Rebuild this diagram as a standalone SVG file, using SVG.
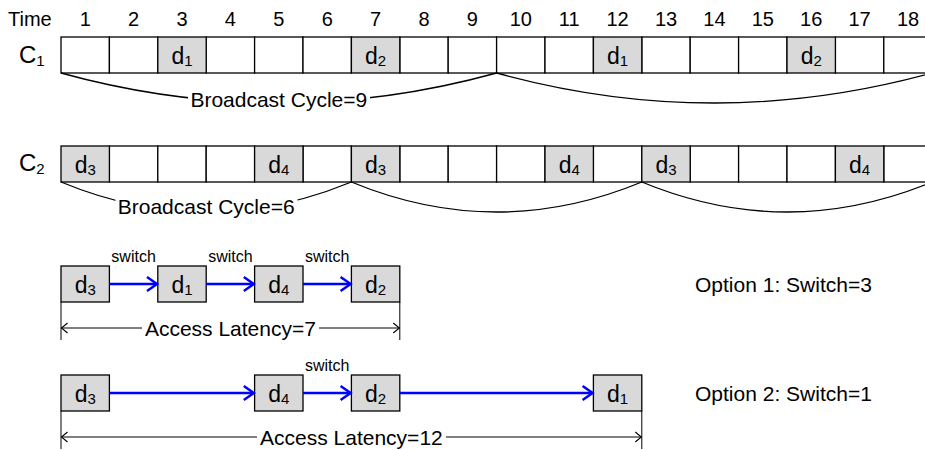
<svg xmlns="http://www.w3.org/2000/svg" width="925" height="450" viewBox="0 0 925 450">
  <style>
    text { font-family: "Liberation Sans", Arial, sans-serif; fill: #000; }
    .hdr { font-size: 20px; text-anchor: middle; }
    .cell { fill: #fff; stroke: #000; stroke-width: 1.3; }
    .data { fill: #d9d9d9; stroke: #000; stroke-width: 1.3; }
    .dl { font-size: 23px; text-anchor: middle; }
    .sub { font-size: 15px; }
    .lbl { font-size: 21px; text-anchor: middle; }
    .opt { font-size: 21px; }
    .sw { font-size: 16px; text-anchor: middle; }
    .brace { fill: none; stroke: #000; stroke-width: 1.3; }
    .flow { stroke: #0000ff; stroke-width: 2.5; fill: none; marker-end: url(#blueHead); }
    .span { stroke: #000; stroke-width: 1; fill: none; }
    .tick { stroke: #000; stroke-width: 1; }
  </style>
  <defs>
    <marker id="blueHead" markerUnits="userSpaceOnUse" markerWidth="18" markerHeight="18" refX="13" refY="9" orient="auto" overflow="visible">
      <path d="M3,2 L13,9 L3,16" fill="none" stroke="#0000ff" stroke-width="2.5"/>
    </marker>
    <marker id="thinHead" markerUnits="userSpaceOnUse" markerWidth="10" markerHeight="12" refX="7" refY="6" orient="auto-start-reverse" overflow="visible">
      <path d="M1,1 L7,6 L1,11" fill="none" stroke="#000" stroke-width="1.1"/>
    </marker>
    <mask id="gap9" maskUnits="userSpaceOnUse" x="0" y="0" width="925" height="450">
      <rect x="0" y="0" width="925" height="450" fill="#fff"/>
      <rect x="188" y="86" width="182" height="26" fill="#000"/>
    </mask>
    <mask id="gap6" maskUnits="userSpaceOnUse" x="0" y="0" width="925" height="450">
      <rect x="0" y="0" width="925" height="450" fill="#fff"/>
      <rect x="115.5" y="193" width="182" height="26" fill="#000"/>
    </mask>
  </defs>

  <!-- time axis -->
  <g id="time-axis">
    <text x="8" y="26" font-size="20">Time</text>
    <text class="hdr" x="85.2" y="26">1</text>
    <text class="hdr" x="133.6" y="26">2</text>
    <text class="hdr" x="182" y="26">3</text>
    <text class="hdr" x="230.4" y="26">4</text>
    <text class="hdr" x="278.8" y="26">5</text>
    <text class="hdr" x="327.2" y="26">6</text>
    <text class="hdr" x="375.6" y="26">7</text>
    <text class="hdr" x="424" y="26">8</text>
    <text class="hdr" x="472.4" y="26">9</text>
    <text class="hdr" x="520.8" y="26">10</text>
    <text class="hdr" x="569.2" y="26">11</text>
    <text class="hdr" x="617.6" y="26">12</text>
    <text class="hdr" x="666" y="26">13</text>
    <text class="hdr" x="714.4" y="26">14</text>
    <text class="hdr" x="762.8" y="26">15</text>
    <text class="hdr" x="811.2" y="26">16</text>
    <text class="hdr" x="859.6" y="26">17</text>
    <text class="hdr" x="908" y="26">18</text>
  </g>

  <!-- channel C1: broadcast cycle of 9 slots -->
  <g id="channel-c1">
    <text x="19" y="63" font-size="24">C<tspan font-size="15" dy="3">1</tspan></text>
    <rect class="cell" x="61" y="37" width="48.4" height="36"/>
    <rect class="cell" x="109.4" y="37" width="48.4" height="36"/>
    <rect class="cell" x="206.2" y="37" width="48.4" height="36"/>
    <rect class="cell" x="254.6" y="37" width="48.4" height="36"/>
    <rect class="cell" x="303" y="37" width="48.4" height="36"/>
    <rect class="cell" x="399.8" y="37" width="48.4" height="36"/>
    <rect class="cell" x="448.2" y="37" width="48.4" height="36"/>
    <rect class="cell" x="496.6" y="37" width="48.4" height="36"/>
    <rect class="cell" x="545" y="37" width="48.4" height="36"/>
    <rect class="cell" x="641.8" y="37" width="48.4" height="36"/>
    <rect class="cell" x="690.2" y="37" width="48.4" height="36"/>
    <rect class="cell" x="738.6" y="37" width="48.4" height="36"/>
    <rect class="cell" x="835.4" y="37" width="48.4" height="36"/>
    <rect class="cell" x="883.8" y="37" width="48.4" height="36"/>
    <g id="c1-slot3"><rect class="data" x="157.8" y="37" width="48.4" height="36"/><text class="dl" x="182" y="64">d<tspan class="sub" dy="2">1</tspan></text></g>
    <g id="c1-slot7"><rect class="data" x="351.4" y="37" width="48.4" height="36"/><text class="dl" x="375.6" y="64">d<tspan class="sub" dy="2">2</tspan></text></g>
    <g id="c1-slot12"><rect class="data" x="593.4" y="37" width="48.4" height="36"/><text class="dl" x="617.6" y="64">d<tspan class="sub" dy="2">1</tspan></text></g>
    <g id="c1-slot16"><rect class="data" x="787" y="37" width="48.4" height="36"/><text class="dl" x="811.2" y="64">d<tspan class="sub" dy="2">2</tspan></text></g>
  </g>

  <!-- channel C2: broadcast cycle of 6 slots -->
  <g id="channel-c2">
    <text x="19" y="171" font-size="24">C<tspan font-size="15" dy="3">2</tspan></text>
    <rect class="cell" x="109.4" y="146" width="48.4" height="36"/>
    <rect class="cell" x="157.8" y="146" width="48.4" height="36"/>
    <rect class="cell" x="206.2" y="146" width="48.4" height="36"/>
    <rect class="cell" x="303" y="146" width="48.4" height="36"/>
    <rect class="cell" x="399.8" y="146" width="48.4" height="36"/>
    <rect class="cell" x="448.2" y="146" width="48.4" height="36"/>
    <rect class="cell" x="496.6" y="146" width="48.4" height="36"/>
    <rect class="cell" x="593.4" y="146" width="48.4" height="36"/>
    <rect class="cell" x="690.2" y="146" width="48.4" height="36"/>
    <rect class="cell" x="738.6" y="146" width="48.4" height="36"/>
    <rect class="cell" x="787" y="146" width="48.4" height="36"/>
    <rect class="cell" x="883.8" y="146" width="48.4" height="36"/>
    <g id="c2-slot1"><rect class="data" x="61" y="146" width="48.4" height="36"/><text class="dl" x="85.2" y="173">d<tspan class="sub" dy="2">3</tspan></text></g>
    <g id="c2-slot5"><rect class="data" x="254.6" y="146" width="48.4" height="36"/><text class="dl" x="278.8" y="173">d<tspan class="sub" dy="2">4</tspan></text></g>
    <g id="c2-slot7"><rect class="data" x="351.4" y="146" width="48.4" height="36"/><text class="dl" x="375.6" y="173">d<tspan class="sub" dy="2">3</tspan></text></g>
    <g id="c2-slot11"><rect class="data" x="545" y="146" width="48.4" height="36"/><text class="dl" x="569.2" y="173">d<tspan class="sub" dy="2">4</tspan></text></g>
    <g id="c2-slot13"><rect class="data" x="641.8" y="146" width="48.4" height="36"/><text class="dl" x="666" y="173">d<tspan class="sub" dy="2">3</tspan></text></g>
    <g id="c2-slot17"><rect class="data" x="835.4" y="146" width="48.4" height="36"/><text class="dl" x="859.6" y="173">d<tspan class="sub" dy="2">4</tspan></text></g>
  </g>

  <!-- cycle braces -->
  <g id="braces">
    <path class="brace" d="M61,73 Q278.8,133 496.6,73" mask="url(#gap9)"/>
    <path class="brace" d="M496.6,73 Q714.4,133 932.2,73"/>
    <text class="lbl" x="278.8" y="106.5">Broadcast Cycle=9</text>
    <path class="brace" d="M61,182 Q206.2,242 351.4,182" mask="url(#gap6)"/>
    <path class="brace" d="M351.4,182 Q496.6,242 641.8,182"/>
    <path class="brace" d="M641.8,182 Q787,242 932.2,182"/>
    <text class="lbl" x="206.2" y="213.5">Broadcast Cycle=6</text>
  </g>

  <!-- option 1: d3, d1, d4, d2 -->
  <g id="opt1-d3"><rect class="data" x="61" y="266" width="48.4" height="36"/><text class="dl" x="85.2" y="293">d<tspan class="sub" dy="2">3</tspan></text></g>
  <g id="opt1-d1"><rect class="data" x="157.8" y="266" width="48.4" height="36"/><text class="dl" x="182" y="293">d<tspan class="sub" dy="2">1</tspan></text></g>
  <g id="opt1-d4"><rect class="data" x="254.6" y="266" width="48.4" height="36"/><text class="dl" x="278.8" y="293">d<tspan class="sub" dy="2">4</tspan></text></g>
  <g id="opt1-d2"><rect class="data" x="351.4" y="266" width="48.4" height="36"/><text class="dl" x="375.6" y="293">d<tspan class="sub" dy="2">2</tspan></text></g>

  <!-- option 2: d3, d4, d2, d1 -->
  <g id="opt2-d3"><rect class="data" x="61" y="375" width="48.4" height="36"/><text class="dl" x="85.2" y="402">d<tspan class="sub" dy="2">3</tspan></text></g>
  <g id="opt2-d4"><rect class="data" x="254.6" y="375" width="48.4" height="36"/><text class="dl" x="278.8" y="402">d<tspan class="sub" dy="2">4</tspan></text></g>
  <g id="opt2-d2"><rect class="data" x="351.4" y="375" width="48.4" height="36"/><text class="dl" x="375.6" y="402">d<tspan class="sub" dy="2">2</tspan></text></g>
  <g id="opt2-d1"><rect class="data" x="593.4" y="375" width="48.4" height="36"/><text class="dl" x="617.6" y="402">d<tspan class="sub" dy="2">1</tspan></text></g>

  <!-- access order connectors and latency spans -->
  <g id="connectors">
    <line class="flow" x1="109.4" y1="284" x2="157" y2="284"/>
    <line class="flow" x1="206.2" y1="284" x2="253.8" y2="284"/>
    <line class="flow" x1="303" y1="284" x2="350.6" y2="284"/>
    <text class="sw" x="133.6" y="262">switch</text>
    <text class="sw" x="230.4" y="262">switch</text>
    <text class="sw" x="327.2" y="262">switch</text>

    <line class="flow" x1="109.4" y1="393" x2="253.8" y2="393"/>
    <line class="flow" x1="303" y1="393" x2="350.6" y2="393"/>
    <line class="flow" x1="399.8" y1="393" x2="592.6" y2="393"/>
    <text class="sw" x="327.2" y="371">switch</text>

    <line class="tick" x1="61" y1="302" x2="61" y2="340"/>
    <line class="tick" x1="399.8" y1="302" x2="399.8" y2="340"/>
    <line class="span" x1="142" y1="328" x2="61.5" y2="328" marker-end="url(#thinHead)"/>
    <line class="span" x1="319" y1="328" x2="399.3" y2="328" marker-end="url(#thinHead)"/>
    <text class="lbl" x="230.4" y="335.5">Access Latency=7</text>

    <line class="tick" x1="61" y1="411" x2="61" y2="449"/>
    <line class="tick" x1="641.8" y1="411" x2="641.8" y2="449"/>
    <line class="span" x1="257" y1="437" x2="61.5" y2="437" marker-end="url(#thinHead)"/>
    <line class="span" x1="446" y1="437" x2="641.3" y2="437" marker-end="url(#thinHead)"/>
    <text class="lbl" x="351.4" y="444.5">Access Latency=12</text>
  </g>

  <text class="opt" x="695" y="292">Option 1: Switch=3</text>
  <text class="opt" x="695" y="401">Option 2: Switch=1</text>
</svg>
